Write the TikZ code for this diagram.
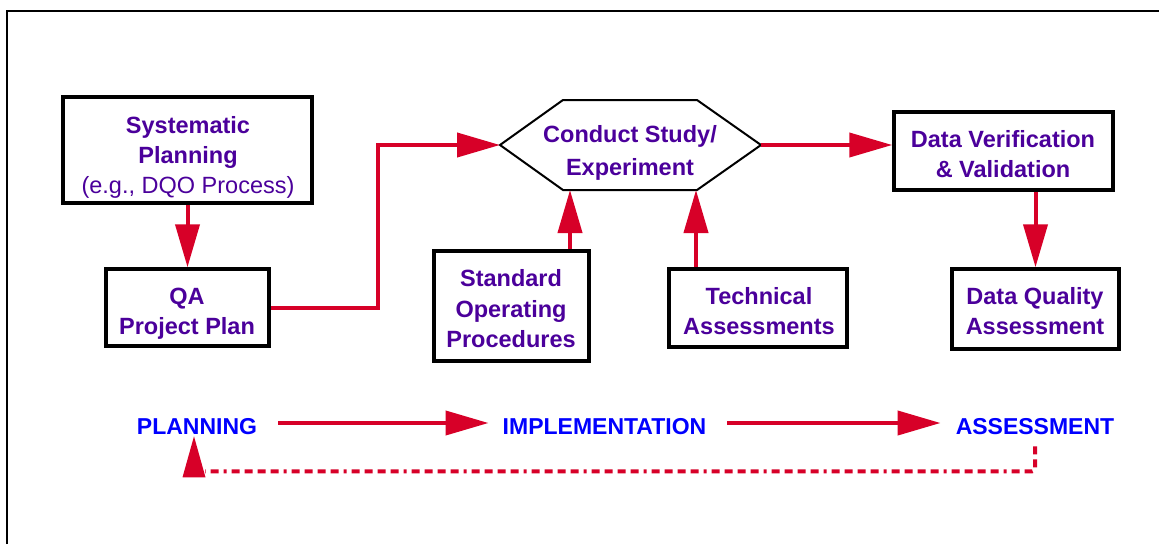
\documentclass[tikz,border=0pt]{standalone}
\usepackage{fontspec}
\setmainfont{Liberation Sans}
\usetikzlibrary{arrows.meta}
\definecolor{boxtxt}{RGB}{75,0,155}
\definecolor{linkred}{RGB}{215,0,40}
\definecolor{phaseblue}{RGB}{0,0,255}
\begin{document}
\begin{tikzpicture}[x=1pt,y=-1pt,
  box/.style={draw=black,line width=3.5pt,inner sep=0pt,fill=white},
  txt/.style={text=boxtxt,font=\fontsize{23.5}{30}\selectfont\bfseries,align=center,inner sep=0pt},
  phase/.style={text=phaseblue,font=\fontsize{23}{28}\selectfont\bfseries,inner sep=0pt},
  conn/.style={draw=linkred,line width=4pt,-{Triangle[length=43pt,width=24pt]}},
  feedback/.style={draw=linkred,line width=4pt,rounded corners=3pt,
    dash pattern=on 8pt off 5pt on 8pt off 5pt on 8pt off 5pt on 8pt off 5pt on 3pt off 5pt}
]
\useasboundingbox (0,0) rectangle (1159,544);
\fill[white] (0,0) rectangle (1159,544);
% frame
\draw[line width=2.5pt] (7,544) -- (7,11) -- (1159,11);

% boxes
\node[box,minimum width=249pt,minimum height=106pt] (sys) at (187.5,150) {};
\node[txt] (syst) at (188,157) {Systematic\\Planning\\\mdseries(e.g., DQO Process)};
\node[box,minimum width=163pt,minimum height=77pt] (qa) at (187.5,307.5) {};
\node[txt] (qat) at (187,314) {QA\\Project Plan};
\node[box,minimum width=155pt,minimum height=110pt] (sop) at (511.5,306) {};
\node[txt,font=\fontsize{23.5}{30.5}\selectfont\bfseries] (sopt) at (511,309) {Standard\\Operating\\Procedures};
\node[box,minimum width=178pt,minimum height=78pt] (tech) at (758,308) {};
\node[txt] (techt) at (759,311.5) {Technical\\Assessments};
\node[box,minimum width=219pt,minimum height=78pt] (dv) at (1003.5,151) {};
\node[txt] (dvt) at (1003,154.5) {Data Verification\\\& Validation};
\node[box,minimum width=167pt,minimum height=80pt] (dqa) at (1035.5,309) {};
\node[txt] (dqat) at (1035,311.5) {Data Quality\\Assessment};

% hexagon
\coordinate (hexL) at (500,145);
\coordinate (hexTL) at (563,100);
\coordinate (hexTR) at (697,100);
\coordinate (hexR) at (761,145);
\coordinate (hexBR) at (697,190);
\coordinate (hexBL) at (563,190);
\draw[line width=2pt,fill=white,line join=miter] (hexL) -- (hexTL) -- (hexTR) -- (hexR) -- (hexBR) -- (hexBL) -- cycle;
\node[txt,font=\fontsize{23.5}{33}\selectfont\bfseries] (hext) at (630,152.5) {Conduct Study/\\Experiment};

% connectors
\coordinate (bend) at (378,145);
\coordinate (hexS) at (570,190);
\coordinate (hexT) at (696,190);
\draw[conn] (sys.south) -- (qa.north);
\draw[conn] (qa.east) -| (bend) -- (hexL);
\draw[conn] (sop.north -| hexS) -- (hexS);
\draw[conn] (tech.north -| hexT) -- (hexT);
\draw[conn] (hexR) -- (hexR -| dv.west);
\draw[conn] (dv.south -| dqa.north) -- (dqa.north);

% phases
\node[phase] (plan) at (197,427) {PLANNING};
\node[phase] (impl) at (604.5,427) {IMPLEMENTATION};
\node[phase] (assess) at (1035,427) {ASSESSMENT};
\draw[conn,shorten <=21pt,shorten >=14pt] ([yshift=4pt]plan.east) -- ([yshift=4pt]impl.west);
\draw[conn,shorten <=21pt,shorten >=15pt] ([yshift=4pt]impl.east) -- ([yshift=4pt]assess.west);

% feedback
\coordinate (fbtip) at ([xshift=-3pt,yshift=-1pt]plan.south);
\draw[feedback] ([yshift=-11pt]assess.south) |- ([xshift=8pt,yshift=-36pt]plan.south);
\fill[linkred] (fbtip) -- ++(-11.5,41) -- ++(23,0) -- cycle;
\end{tikzpicture}
\end{document}
